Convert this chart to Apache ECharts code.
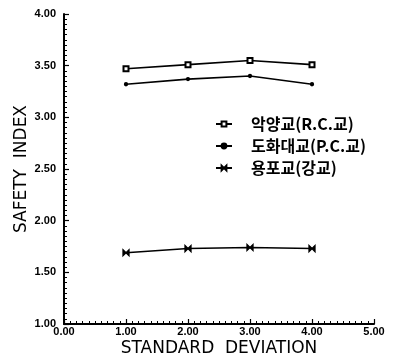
<!DOCTYPE html>
<html>
<head>
<meta charset="utf-8">
<script src="https://cdn.jsdelivr.net/npm/echarts@6/dist/echarts.min.js"></script>
<style>
  html, body { margin: 0; padding: 0; background: #fff; }
  #chart { width: 414px; height: 360px; }
</style>
</head>
<body>
<div id="chart"></div>
<script>
// 표준편차별 안전지수
const deviations = [1, 2, 3, 4];
const seriesNames = ['악양교(R.C.교)', '도화대교(P.C.교)', '용포교(강교)'];
const akyang = [3.47, 3.51, 3.55, 3.51];
const dohwa = [3.32, 3.37, 3.40, 3.32];
const yongpo = [1.69, 1.73, 1.74, 1.73];

const chart = echarts.init(document.getElementById('chart'));

const tickFont = {
  color: '#000',
  fontFamily: 'Liberation Sans',
  fontWeight: 'bold',
  fontSize: 11
};

function makeLine(name, values, symbol, size) {
  return {
    name: name,
    type: 'line',
    data: deviations.map((d, i) => [d, values[i]]),
    symbol: symbol,
    symbolSize: size,
    lineStyle: { color: '#000', width: 1.6 },
    itemStyle: { color: '#000', borderColor: '#000', borderWidth: 1.3 },
    animation: false
  };
}

chart.setOption({
  backgroundColor: '#fff',
  grid: { left: 64, right: 40, top: 14, bottom: 36, outerBoundsMode: 'none' },
  legend: {
    orient: 'vertical',
    left: 210,
    top: 111,
    itemGap: 6,
    itemWidth: 16,
    itemHeight: 6,
    textStyle: {
      color: '#000',
      fontFamily: 'Noto Sans CJK KR',
      fontWeight: 'bold',
      fontSize: 16,
      padding: [0, 0, 0, 14]
    },
    data: seriesNames
  },
  xAxis: {
    type: 'value',
    min: 0,
    max: 5,
    interval: 1,
    name: 'STANDARD  DEVIATION',
    nameLocation: 'middle',
    nameGap: 16,
    nameMoveOverlap: false,
    nameTextStyle: { color: '#000', fontFamily: 'DejaVu Sans', fontSize: 17 },
    axisLine: { lineStyle: { color: '#000', width: 2 } },
    axisTick: { inside: true, length: 5, lineStyle: { color: '#000', width: 1.2 } },
    minorTick: { show: true, splitNumber: 10, length: 3, lineStyle: { color: '#000', width: 1 } },
    splitLine: { show: false },
    axisLabel: Object.assign({ margin: 2, formatter: v => v.toFixed(2) }, tickFont)
  },
  yAxis: {
    type: 'value',
    min: 1,
    max: 4,
    interval: 0.5,
    name: 'SAFETY  INDEX',
    nameLocation: 'middle',
    nameGap: 34,
    nameMoveOverlap: false,
    nameTextStyle: { color: '#000', fontFamily: 'DejaVu Sans', fontSize: 17 },
    axisLine: { show: true, lineStyle: { color: '#000', width: 2 } },
    axisTick: { show: true, inside: true, length: 5, lineStyle: { color: '#000', width: 1.2 } },
    minorTick: { show: true, splitNumber: 10, length: 3, lineStyle: { color: '#000', width: 1 } },
    splitLine: { show: false },
    axisLabel: Object.assign({ margin: 8, formatter: v => v.toFixed(2) }, tickFont)
  },
  series: [
    makeLine(seriesNames[0], akyang, 'emptyRect', 5),
    makeLine(seriesNames[1], dohwa, 'circle', 3),
    makeLine(seriesNames[2], yongpo, 'path://M0,0L10,6L10,0L0,6Z', 6)
  ]
});
</script>
</body>
</html>
